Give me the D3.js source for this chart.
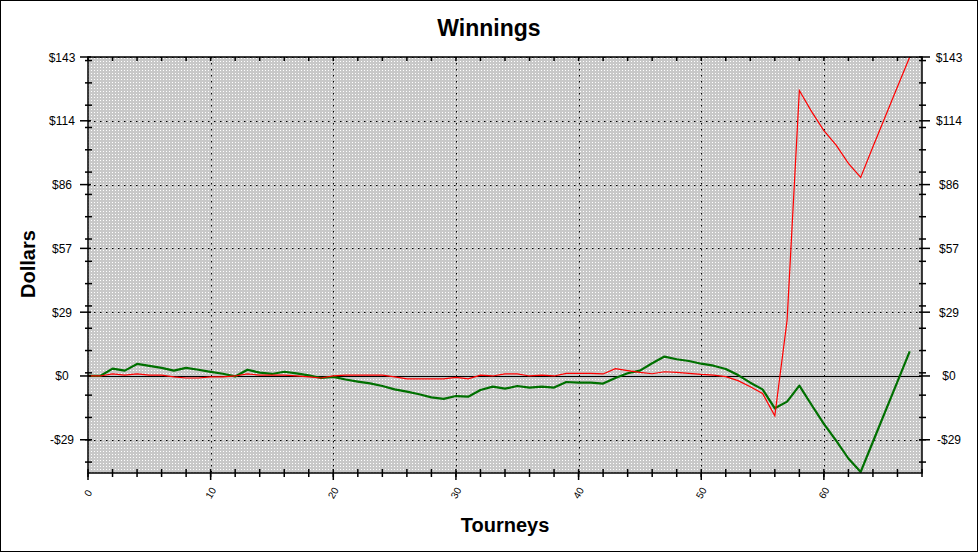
<!DOCTYPE html>
<html><head><meta charset="utf-8">
<script src="https://cdn.jsdelivr.net/npm/d3@7"></script>
<style>
html,body{margin:0;padding:0;background:#fff;}
svg{display:block;font-family:"Liberation Sans",Arial,sans-serif;}
</style></head>
<body>
<svg id="chart" width="978" height="552"></svg>
<script>
const tourneys = d3.range(0, 68);
const redSeries = [0,0,0.9,0.4,0.9,0.4,0.4,-0.4,-0.9,-0.9,-0.4,-0.4,0,0.9,0.4,0.4,0.4,0,-0.4,-0.9,0,0.4,0.4,0.4,0.4,-0.4,-1.3,-1.3,-1.3,-1.3,-0.6,-1.3,0.4,0,0.9,0.9,0,0.4,0,1.2,1.2,1.2,0.9,3.3,2.4,1.6,1.0,1.9,1.6,1.2,0.7,0.4,-0.3,-2.1,-4.8,-7.8,-17.9,25,128,118.5,110,103.5,95.3,89,102.8,116.2,129.7,143];
const greenSeries = [0,0,3.3,2.4,5.4,4.5,3.6,2.4,3.6,2.8,1.8,1.0,-0.2,2.8,1.5,0.9,1.9,1.2,0.3,-0.9,-0.4,-1.6,-2.5,-3.3,-4.5,-6.0,-7.0,-8.2,-9.6,-10.3,-9.0,-9.3,-6.3,-4.8,-5.7,-4.5,-5.2,-4.8,-5.2,-2.7,-3.0,-3.0,-3.4,-0.9,1.2,2.4,5.7,8.7,7.5,6.7,5.5,4.6,3.1,0.4,-3.0,-6.0,-14.5,-11.5,-4.3,-13.0,-21.5,-29,-37,-43,-29.5,-16,-2.5,11];
const yTickValues = [-28.6, 0, 28.6, 57.2, 85.8, 114.4, 143];
const yTickLabels = ["-$29", "$0", "$29", "$57", "$86", "$114", "$143"];
const yMinorTicks = d3.range(-38.6, 143, 10);
const xTickValues = [0, 10, 20, 30, 40, 50, 60];
const xMinorTicks = d3.range(0, 69, 2);
const titleText = "Winnings";
const xTitle = "Tourneys";
const yTitle = "Dollars";

const svg = d3.select("#chart");
const W = 978, H = 552;
const L = 88, R = 922, T = 57, B = 473;
const x = d3.scaleLinear().domain([0, 68]).range([L, R]);
const y = d3.scaleLinear().domain([-43.5, 143]).range([B, T]);

// outer border
svg.append("rect").attr("x",0.5).attr("y",0.5).attr("width",W-1).attr("height",H-1)
  .attr("fill","#fff").attr("stroke","#000");

// pattern
const defs = svg.append("defs");
const pat = defs.append("pattern").attr("id","dots").attr("patternUnits","userSpaceOnUse")
  .attr("width",3).attr("height",3);
pat.append("rect").attr("width",3).attr("height",3).attr("fill","#c8c8c8");
pat.append("rect").attr("x",1).attr("y",1).attr("width",1).attr("height",1).attr("fill","#ffffff");

svg.append("rect").attr("x",L).attr("y",T).attr("width",R-L).attr("height",B-T).attr("fill","url(#dots)");

// grid lines
const grid = svg.append("g").attr("stroke","#000").attr("stroke-width",1).attr("stroke-dasharray","1.5,4.5");
yTickValues.filter(v => v !== 0).forEach(v => {
  const yy = Math.round(y(v)) + 0.5;
  grid.append("line").attr("x1",L).attr("x2",R).attr("y1",yy).attr("y2",yy);
});
xTickValues.filter(v => v !== 0).forEach(v => {
  const xx = Math.round(x(v)) + 0.5;
  grid.append("line").attr("x1",xx).attr("x2",xx).attr("y1",T).attr("y2",B);
});

// zero line
svg.append("line").attr("x1",L).attr("x2",R).attr("y1",Math.round(y(0))+0.5).attr("y2",Math.round(y(0))+0.5)
  .attr("stroke","#000");

// series lines
const line = d3.line().x((d,i) => x(tourneys[i])).y(d => y(d));
svg.append("path").datum(greenSeries).attr("d", line).attr("fill","none")
  .attr("stroke","#007000").attr("stroke-width",2.2).attr("stroke-linejoin","round");
svg.append("path").datum(redSeries).attr("d", line).attr("fill","none")
  .attr("stroke","#ff0000").attr("stroke-width",1.2);

// frame
const fr = svg.append("g").attr("stroke","#000").attr("stroke-width",1.5).attr("fill","none");
fr.append("rect").attr("x",L).attr("y",T).attr("width",R-L).attr("height",B-T);

// axes ticks
const tk = svg.append("g").attr("stroke","#000").attr("stroke-width",1.5);
yMinorTicks.forEach(v => {
  const yy = y(v);
  tk.append("line").attr("x1",L-3).attr("x2",L+4).attr("y1",yy).attr("y2",yy);
  tk.append("line").attr("x1",R-3).attr("x2",R+4).attr("y1",yy).attr("y2",yy);
});
yTickValues.forEach(v => {
  const yy = y(v);
  tk.append("line").attr("x1",L-8).attr("x2",L+3).attr("y1",yy).attr("y2",yy);
  tk.append("line").attr("x1",R-3).attr("x2",R+8).attr("y1",yy).attr("y2",yy);
});
xMinorTicks.forEach(v => {
  const xx = x(v);
  tk.append("line").attr("x1",xx).attr("x2",xx).attr("y1",B-4).attr("y2",B+4);
  tk.append("line").attr("x1",xx).attr("x2",xx).attr("y1",T).attr("y2",T+4);
});
xTickValues.forEach(v => {
  const xx = x(v);
  tk.append("line").attr("x1",xx).attr("x2",xx).attr("y1",B).attr("y2",B+7);
});

// y labels
const lab = svg.append("g").attr("font-size",12).attr("fill","#000").attr("text-anchor","middle");
yTickValues.forEach((v,i) => {
  lab.append("text").attr("x",62).attr("y",y(v)+4.5).text(yTickLabels[i]);
  lab.append("text").attr("x",949).attr("y",y(v)+4.5).text(yTickLabels[i]);
});
// x labels rotated
xTickValues.forEach(v => {
  svg.append("text").attr("font-size",10).attr("text-anchor","middle")
    .attr("transform",`translate(${x(v)},${B+20}) rotate(-60)`).attr("dy","0.35em").text(v);
});

// titles
svg.append("text").attr("x",489).attr("y",36).attr("text-anchor","middle")
  .attr("font-size",23).attr("font-weight","bold").text(titleText);
svg.append("text").attr("x",505).attr("y",532).attr("text-anchor","middle")
  .attr("font-size",20).attr("font-weight","bold").text(xTitle);
svg.append("text").attr("transform","translate(35,264) rotate(-90)").attr("text-anchor","middle")
  .attr("font-size",20).attr("font-weight","bold").text(yTitle);
</script>
</body></html>
